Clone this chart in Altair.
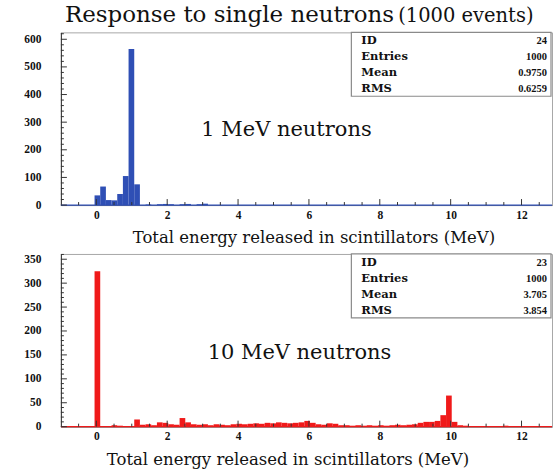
import altair as alt
import pandas as pd

TITLE_MAIN = "Response to single neutrons"
TITLE_NOTE = "(1000 events)"
X_TITLE = "Total energy released in scintillators (MeV)"

# shared energy axis
x_domain = [-1, 12.86]
bin_width = 0.16
x_major = [0, 2, 4, 6, 8, 10, 12]
x_minor = [-0.5, 0.5, 1, 1.5, 2.5, 3, 3.5, 4.5, 5, 5.5, 6.5, 7, 7.5,
           8.5, 9, 9.5, 10.5, 11, 11.5, 12.5]

# 1 MeV neutrons: bin low edges and counts
lo_1mev = [-0.05, 0.11, 0.27, 0.43, 0.59, 0.75, 0.91, 1.07,
           1.39, 1.71, 1.87, 2.03, 2.35, 2.51, 2.83, 2.99]
n_1mev = [35, 67, 18, 17, 40, 105, 565, 75,
          2, 3, 4, 3, 3, 4, 3, 5]

# 10 MeV neutrons: bin low edges and counts
lo_10mev = [-0.05, 0.43, 0.59, 1.07, 1.23, 1.39, 1.55, 1.71, 1.87, 2.03,
            2.19, 2.35, 2.51, 2.67, 2.83, 2.99, 3.15, 3.31, 3.47, 3.63,
            3.79, 3.95, 4.11, 4.27, 4.43, 4.59, 4.75, 4.91, 5.07, 5.23,
            5.39, 5.55, 5.71, 5.87, 6.03, 6.19, 6.35, 6.51, 6.67, 6.83,
            6.99, 7.15, 7.31, 7.47, 7.63, 7.79, 7.95, 8.11, 8.27, 8.43,
            8.59, 8.75, 8.91, 9.07, 9.23, 9.39, 9.55, 9.71, 9.87, 10.03,
            10.19, 10.35, 10.67, 11.15, 11.47, 11.95, 12.27]
n_10mev = [325, 3, 2, 15, 4, 5, 3, 9, 8, 5,
           4, 18, 9, 5, 4, 5, 3, 5, 4, 3,
           5, 6, 5, 6, 7, 6, 8, 7, 9, 8,
           7, 8, 9, 12, 8, 5, 4, 7, 6, 3,
           3, 2, 3, 2, 3, 2, 3, 2, 3, 4,
           3, 4, 5, 8, 10, 10, 12, 24, 65, 10,
           3, 2, 1, 1, 2, 1, 1]

# statistics boxes
stats_labels = ["ID", "Entries", "Mean", "RMS"]
stats_1mev = ["24", "1000", "0.9750", "0.6259"]
stats_10mev = ["23", "1000", "3.705", "3.854"]

W, H = 492, 173
SERIF = "DejaVu Serif"
TIMES = "Liberation Serif"
one = pd.DataFrame({"k": [0]})


def panel(lo, counts, color, y_max, y_major, y_minor, stats, label,
          label_x, label_y, title_x, header=False):
    xs = alt.Scale(domain=x_domain, nice=False, zero=False)
    ys = alt.Scale(domain=[0, y_max], nice=False, zero=True)
    x_axis = alt.Axis(
        values=x_major, format="d", tickSize=0, labelPadding=4,
        title=X_TITLE, titleX=title_x, titleY=38, titleAlign="center",
        titleBaseline="alphabetic", domainColor="#777")
    y_axis = alt.Axis(
        values=y_major, format="d", tickSize=0, labelPadding=20,
        title=None, domainColor="#333")
    df = pd.DataFrame({"lo": lo, "count": counts})

    bars = alt.Chart(df).transform_calculate(
        hi=f"datum.lo + {bin_width}", base="0"
    ).mark_rect(color=color).encode(
        x=alt.X("lo:Q", scale=xs, axis=x_axis),
        x2="hi:Q",
        y=alt.Y("count:Q", scale=ys, axis=y_axis),
        y2="base:Q",
    )

    # histogram outline along zero
    zero_line = alt.Chart(one).mark_rule(color=color, strokeWidth=1.2).encode(
        x=alt.datum(-1, scale=xs, axis=x_axis), x2=alt.datum(12.86),
        y=alt.datum(0, scale=ys, axis=y_axis)
    )

    # inward tick marks on both axes
    def xticks(vals, length):
        return alt.Chart(pd.DataFrame({"t": vals})).mark_rule(
            color="#333", strokeWidth=1).encode(
            x=alt.X("t:Q", scale=xs, axis=x_axis),
            y=alt.value(H), y2=alt.value(H - length))

    def yticks(vals, length):
        return alt.Chart(pd.DataFrame({"t": vals})).mark_rule(
            color="#333", strokeWidth=1).encode(
            y=alt.Y("t:Q", scale=ys, axis=y_axis),
            x=alt.value(0), x2=alt.value(length))

    box = alt.Chart(one).mark_rect(fill="white", stroke="#8a8a8a",
                                   strokeWidth=1.2).encode(
        x=alt.value(291), x2=alt.value(W - 1), y=alt.value(0), y2=alt.value(64))
    box_labels = alt.Chart(one).mark_text(
        align="left", baseline="middle", font=SERIF, fontWeight="bold",
        fontSize=11.5, lineHeight=16, color="#111").encode(
        x=alt.value(301), y=alt.value(9), text=alt.value(stats_labels))
    box_values = alt.Chart(one).mark_text(
        align="right", baseline="middle", font=TIMES, fontWeight="bold",
        fontSize=10.5, lineHeight=16, color="#111").encode(
        x=alt.value(487), y=alt.value(9), text=alt.value(stats))

    note = alt.Chart(one).mark_text(
        align="center", baseline="alphabetic", font=SERIF, fontSize=21,
        color="#111").encode(
        x=alt.value(label_x), y=alt.value(label_y), text=alt.value(label))

    layers = [bars, zero_line,
              xticks(x_major, 6), xticks(x_minor, 3),
              yticks(y_major, 6), yticks(y_minor, 3),
              box, box_labels, box_values, note]

    if header:
        layers.append(alt.Chart(one).mark_text(
            align="left", baseline="alphabetic", font=SERIF, fontSize=23,
            color="#111").encode(
            x=alt.value(4), y=alt.value(-10), text=alt.value(TITLE_MAIN)))
        layers.append(alt.Chart(one).mark_text(
            align="left", baseline="alphabetic", font=SERIF, fontSize=19.5,
            color="#111").encode(
            x=alt.value(338), y=alt.value(-10), text=alt.value(TITLE_NOTE)))

    return alt.layer(*layers).properties(width=W, height=H)


top = panel(lo_1mev, n_1mev, "#2f4fb5", 625,
            [0, 100, 200, 300, 400, 500, 600],
            [v for v in range(20, 625, 20) if v % 100],
            stats_1mev, "1 MeV neutrons", 226, 104, 253, header=True)

bottom = panel(lo_10mev, n_10mev, "#f01a1a", 361,
               [0, 50, 100, 150, 200, 250, 300, 350],
               [v for v in range(10, 361, 10) if v % 50],
               stats_10mev, "10 MeV neutrons", 239, 105, 227)

chart = alt.vconcat(top, bottom, spacing=5).properties(
    padding={"left": 23, "top": 3, "right": 0, "bottom": 0}
).configure_view(stroke="#a8a8a8", strokeWidth=1).configure_axis(
    labelFont=TIMES, labelFontWeight="bold", labelFontSize=11.5,
    labelColor="#111", titleFont=SERIF, titleFontWeight="normal",
    titleFontSize=16.5, titleColor="#111", grid=False
)

chart.save("out.html", embed_options={"renderer": "svg", "actions": False})
